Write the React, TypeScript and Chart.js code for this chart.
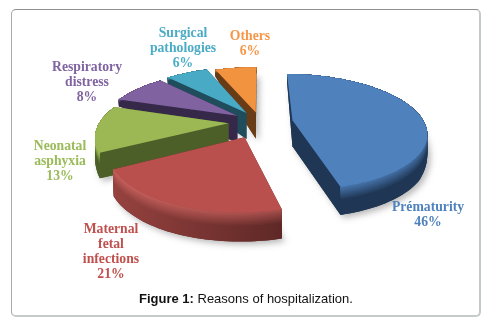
import React, { useEffect, useRef } from "react";
import { Chart, registerables } from "chart.js";

Chart.register(...registerables);

const categories = ["Prématurity", "Maternal fetal infections", "Neonatal asphyxia", "Respiratory distress", "Surgical pathologies", "Others"];
const values = [46, 21, 13, 8, 6, 6];

const topColors = ["#4f81bd", "#b9504d", "#9bb854", "#8062a0", "#48aac5", "#f2933f"];
const sideLeft = ["#1f3654", "#96423f", "#4c5f28", "#352848", "#1f4d5c", "#683c17"];
const sideRight = ["#1f3654", "#5e2826", "#4c5f28", "#352848", "#1f4d5c", "#683c17"];
const rimColors = ["#4f81bd", "#c9625e", "#acd05a", "#8064a2", "#4bacc6", "#f79646"];
const textColors = ["#4f81bd", "#c0504d", "#9bbb59", "#8064a2", "#4bacc6", "#f79646"];
const explode = [0.24, 0.27, 0.23, 0.2, 0.19, 0.17];
const radii = [0.96, 0.92, 0.94, 1, 1.02, 1];
const drawOrder = [5, 4, 3, 2, 0, 1];

const labelLines = [
  ["Prématurity", "46%"],
  ["Maternal", "fetal", "infections", "21%"],
  ["Neonatal", "asphyxia", "13%"],
  ["Respiratory", "distress", "8%"],
  ["Surgical", "pathologies", "6%"],
  ["Others", "6%"],
];
const labelAnchors = [
  [428, 207],
  [111, 229],
  [60, 146],
  [87, 67],
  [183, 33],
  [250, 36],
];

const CX = 260, CY = 122, A = 137, B = 58.5, K = 0.21;

function depthAt(v: number) {
  if (v >= 0.35) return 7;
  if (v <= -1.1) return 29;
  if (v <= -0.5) return 26 + ((-0.5 - v) / 0.6) * 3;
  return 7 + ((0.35 - v) / 0.85) * 19;
}

function project(u: number, v: number, d: number) {
  const s = 1 / (1 + K * v);
  return [CX + A * u * s, CY - B * v * s + d];
}

function mix(c1: string, c2: string, t: number) {
  const p = (c: string, o: number) => parseInt(c.slice(o, o + 2), 16);
  const ch = (o: number) => Math.round(p(c1, o) + (p(c2, o) - p(c1, o)) * t);
  return `rgb(${ch(1)},${ch(3)},${ch(5)})`;
}

const pie3d = {
  id: "pie3d",
  beforeDatasetsDraw(chart: any) {
    const ctx: CanvasRenderingContext2D = chart.ctx;
    const arcs = chart.getDatasetMeta(0).data;
    ctx.save();
    for (const i of drawOrder) {
      const arc = arcs[i];
      const a0 = arc.startAngle + Math.PI / 2;
      const a1 = arc.endAngle + Math.PI / 2;
      const mid = (a0 + a1) / 2;
      const au = explode[i] * Math.sin(mid);
      const av = explode[i] * Math.cos(mid);
      const n = Math.max(8, Math.round((a1 - a0) * 30));
      const rim: number[][] = [];
      for (let j = 0; j <= n; j++) {
        const t = a0 + ((a1 - a0) * j) / n;
        rim.push([au + radii[i] * Math.sin(t), av + radii[i] * Math.cos(t)]);
      }
      const top = rim.map(([u, v]) => project(u, v, 0));
      const bot = rim.map(([u, v]) => project(u, v, depthAt(v)));
      const apexTop = project(au, av, 0);
      const apexBot = project(au, av, 26);
      const xs = top.map((p) => p[0]);
      const minX = Math.min(...xs);
      const maxX = Math.max(...xs);

      // body silhouette with soft shadow
      ctx.save();
      ctx.shadowColor = "rgba(0,0,0,0.28)";
      ctx.shadowBlur = 6;
      ctx.shadowOffsetX = 3;
      ctx.shadowOffsetY = 3;
      ctx.fillStyle = sideRight[i];
      ctx.beginPath();
      ctx.moveTo(apexBot[0], apexBot[1]);
      bot.forEach((p) => ctx.lineTo(p[0], p[1]));
      ctx.closePath();
      ctx.fill();
      ctx.restore();

      // cut faces
      ctx.fillStyle = sideRight[i];
      for (const k of [0, n]) {
        ctx.beginPath();
        ctx.moveTo(apexTop[0], apexTop[1]);
        ctx.lineTo(top[k][0], top[k][1]);
        ctx.lineTo(bot[k][0], bot[k][1]);
        ctx.lineTo(apexBot[0], apexBot[1]);
        ctx.closePath();
        ctx.fill();
      }

      // outer wall: nested bands, lightest against the top face
      const bands = 20;
      for (let b = bands; b >= 1; b--) {
        const f = b / bands;
        const shade = Math.max(0, 1 - f / 0.5); // 0 at lower wall, 1 at the rim
        const g = ctx.createLinearGradient(minX, 0, maxX, 0);
        g.addColorStop(0, mix(sideLeft[i], rimColors[i], shade));
        g.addColorStop(1, mix(sideRight[i], rimColors[i], shade * 0.7));
        ctx.fillStyle = g;
        ctx.beginPath();
        top.forEach((p, j) => (j ? ctx.lineTo(p[0], p[1]) : ctx.moveTo(p[0], p[1])));
        for (let j = n; j >= 0; j--) {
          ctx.lineTo(top[j][0], top[j][1] + (bot[j][1] - top[j][1]) * f);
        }
        ctx.closePath();
        ctx.fill();
      }

      // top face
      ctx.fillStyle = topColors[i];
      ctx.beginPath();
      ctx.moveTo(apexTop[0], apexTop[1]);
      top.forEach((p) => ctx.lineTo(p[0], p[1]));
      ctx.closePath();
      ctx.fill();
    }

    // slice labels
    ctx.textAlign = "center";
    ctx.textBaseline = "middle";
    ctx.font = 'bold 13.7px "Liberation Serif"';
    labelLines.forEach((lines, i) => {
      ctx.fillStyle = textColors[i];
      lines.forEach((line, j) => {
        ctx.fillText(line, labelAnchors[i][0], labelAnchors[i][1] + j * 15);
      });
    });

    // caption
    ctx.textAlign = "left";
    ctx.fillStyle = "#111";
    ctx.font = 'bold 13px "Liberation Sans"';
    const head = "Figure 1:";
    ctx.fillText(head, 139, 299);
    const w = ctx.measureText(head + " ").width;
    ctx.font = '13px "Liberation Sans"';
    ctx.fillText("Reasons of hospitalization.", 139 + w, 299);
    ctx.restore();
    return false;
  },
};

export default function App() {
  const ref = useRef<HTMLCanvasElement>(null);
  useEffect(() => {
    document.body.style.margin = "0";
    const chart = new Chart(ref.current!, {
      type: "pie",
      data: {
        labels: categories,
        datasets: [{ data: values, backgroundColor: topColors, borderWidth: 0 }],
      },
      options: {
        responsive: false,
        animation: false,
        plugins: { legend: { display: false }, tooltip: { enabled: false } },
      },
      plugins: [pie3d],
    } as any);
    return () => chart.destroy();
  }, []);
  return (
    <div style={{ position: "relative", width: 502, height: 328, background: "#fff", overflow: "hidden" }}>
      <div
        style={{
          position: "absolute",
          left: 11,
          top: 9,
          width: 467,
          height: 305,
          borderTop: "1px solid #8f8f8f",
          borderLeft: "1px solid #a9a9a9",
          borderRight: "2px solid #c5cbc9",
          borderBottom: "2px solid #c5cbc9",
          borderRadius: 5,
        }}
      />
      <canvas ref={ref} width={502} height={328} style={{ position: "absolute", left: 0, top: 0, display: "block" }} />
    </div>
  );
}
